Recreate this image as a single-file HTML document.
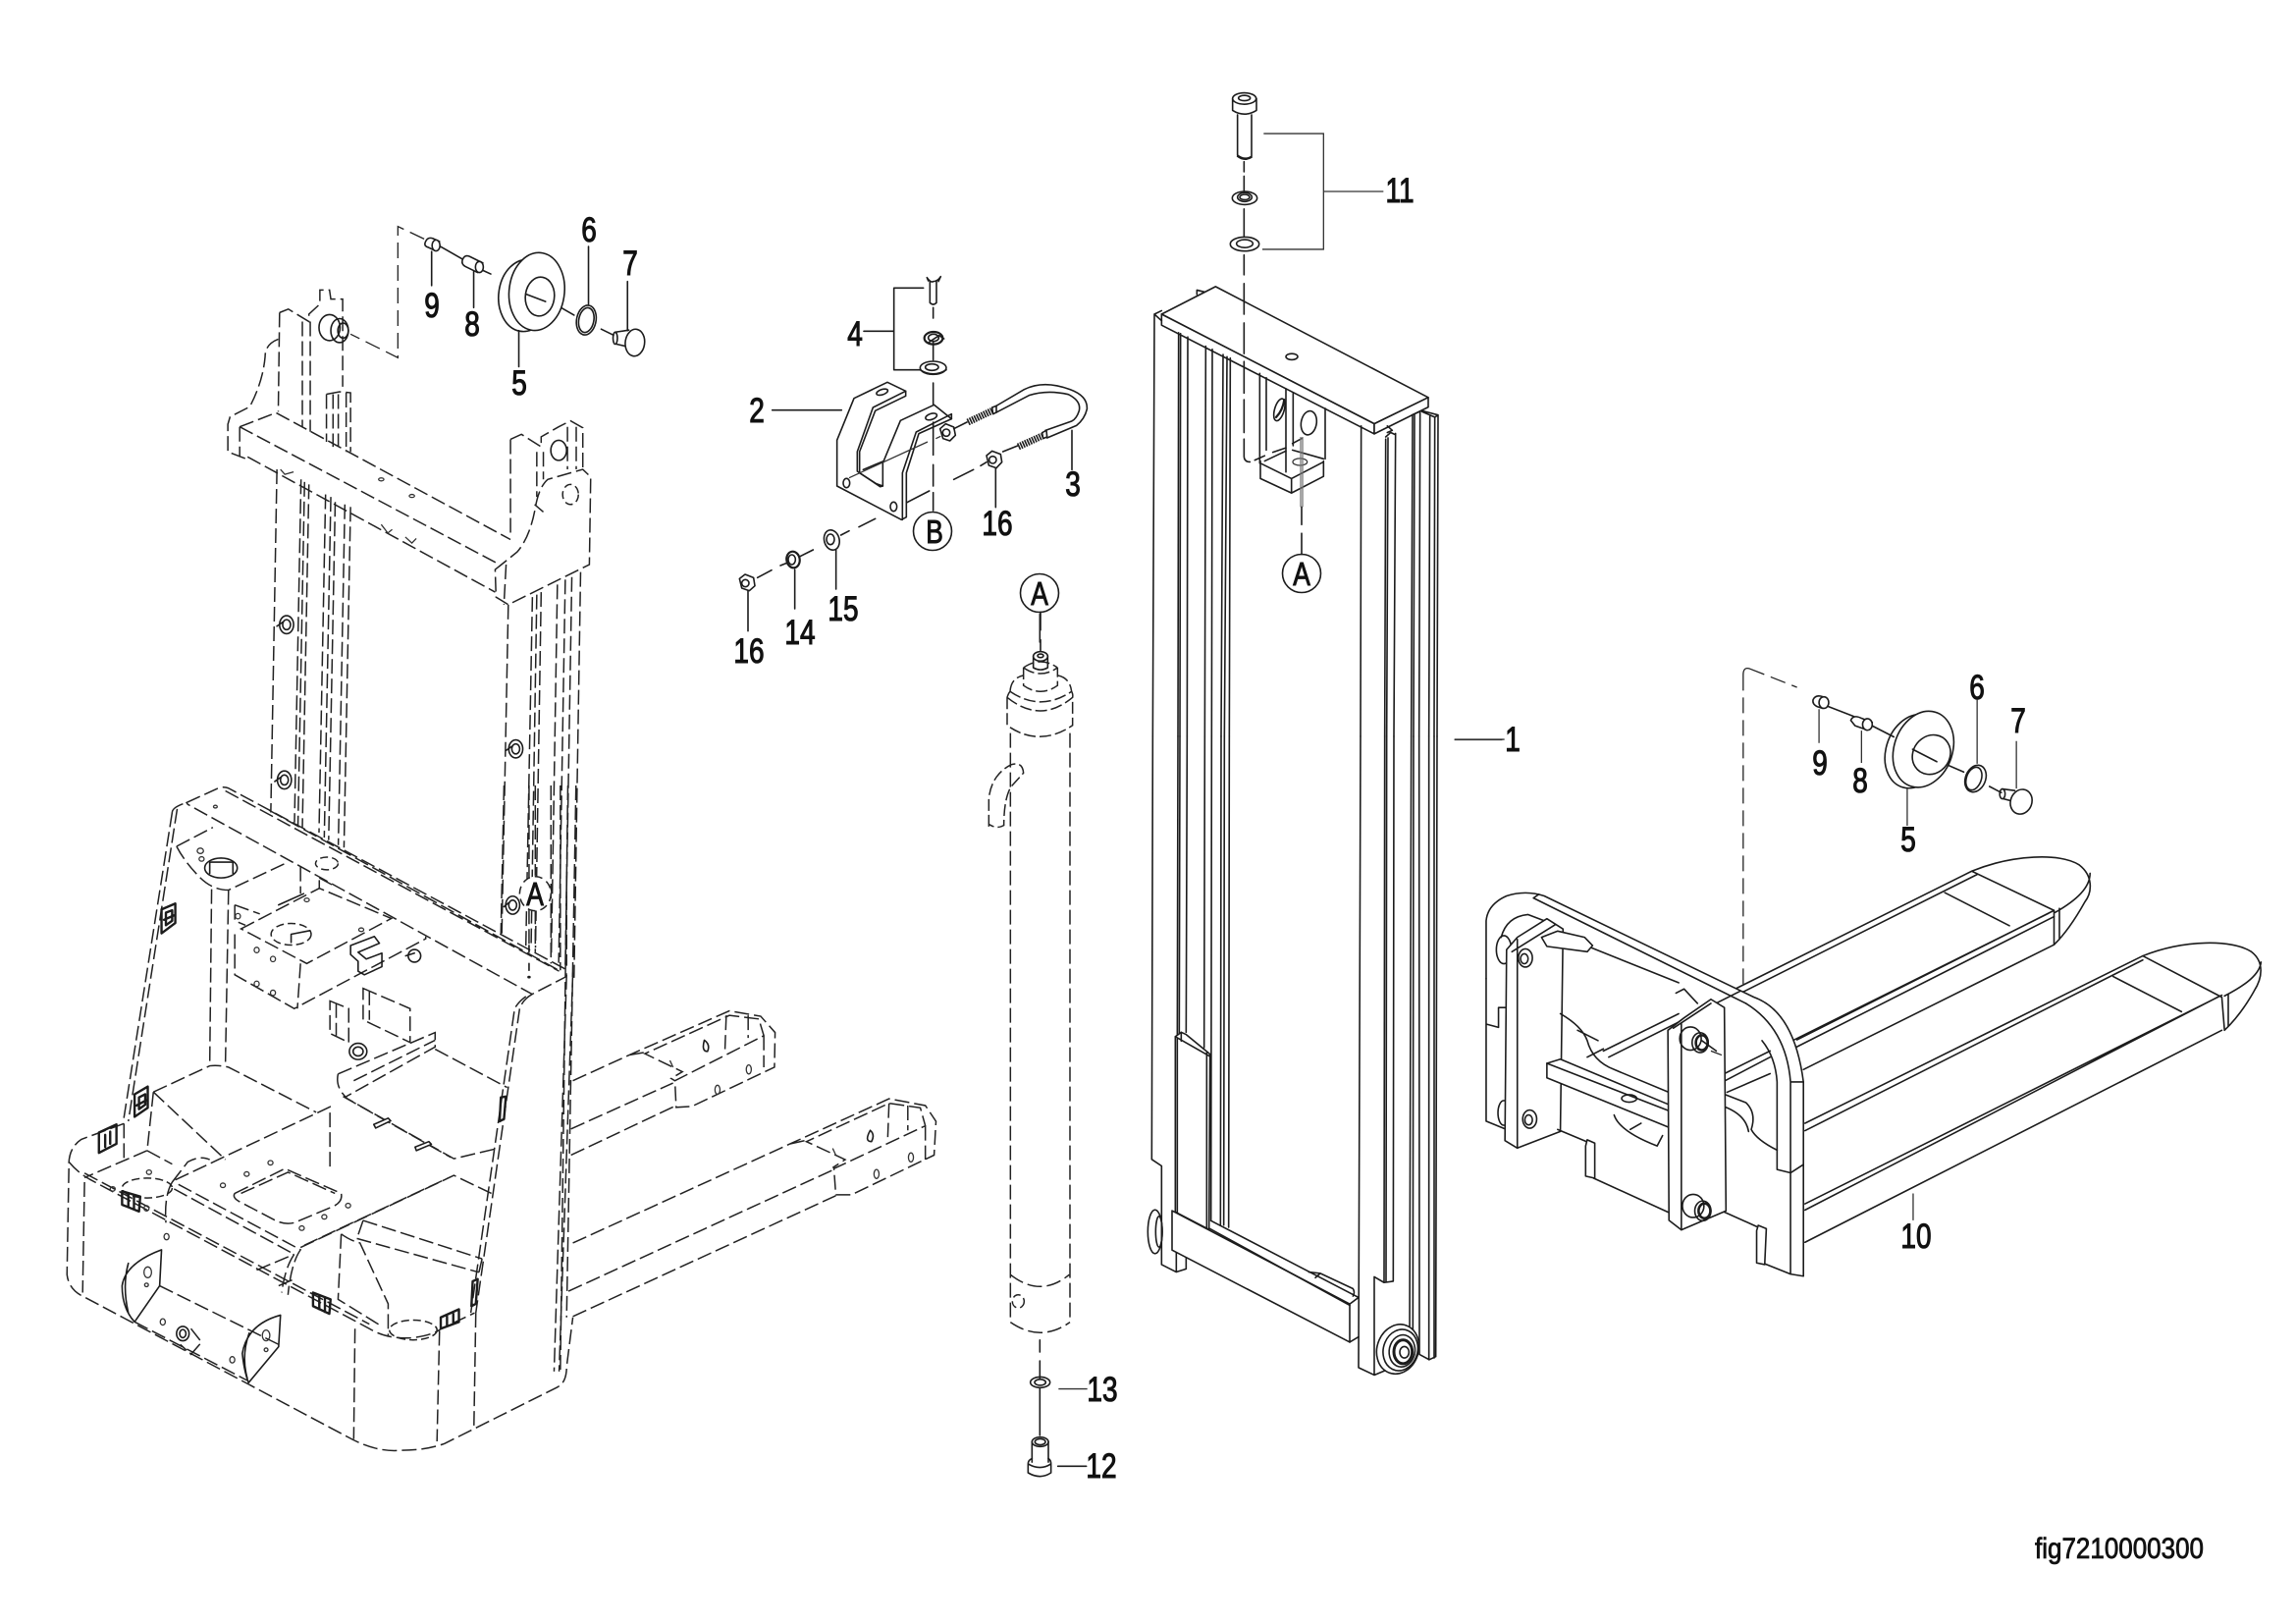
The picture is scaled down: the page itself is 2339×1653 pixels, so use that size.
<!DOCTYPE html>
<html><head><meta charset="utf-8"><title>fig7210000300</title>
<style>
html,body{margin:0;padding:0;background:#fff;width:2339px;height:1653px;overflow:hidden}
svg{display:block}
svg *{vector-effect:non-scaling-stroke}
.s{fill:none;stroke:#1c1c1c;stroke-width:1.6;stroke-linejoin:round;stroke-linecap:round}
.t{fill:none;stroke:#333;stroke-width:1.3}
.d{fill:none;stroke:#222;stroke-width:1.5;stroke-dasharray:15 5}
.dl{fill:none;stroke:#222;stroke-width:1.3;stroke-dasharray:16 7}
.w{fill:#fff;stroke:#1c1c1c;stroke-width:1.6;stroke-linejoin:round}
.k{fill:#1c1c1c;stroke:#1c1c1c;stroke-width:1}
.lb{font-family:"Liberation Sans",sans-serif;font-size:35px;fill:#111;stroke:#111;stroke-width:1;text-anchor:middle}
.ca{font-family:"Liberation Sans",sans-serif;font-size:33px;fill:#111;stroke:#111;stroke-width:.9;text-anchor:middle}
</style></head><body>
<svg xmlns="http://www.w3.org/2000/svg" width="2339" height="1653" viewBox="0 0 2339 1653">
<rect width="2339" height="1653" fill="#fff"/>

<!-- LEFT MAST (zoom1 coordinate space) -->
<g transform="translate(0 200) scale(.4464 .5102)">
<path class="dl" d="M968,85 L908,60 L908,322 L800,275"/>
<path class="s" d="M1005,100 L1055,125 M1100,147 L1120,155 M1245,205 L1262,215 M1270,217 L1310,237 M1372,265 L1400,277"/>
<path class="w" d="M970,93 Q975,80 988,84 L1003,90 L992,108 L978,102 Q968,100 970,93 Z"/>
<ellipse class="w" cx="995" cy="98" rx="9" ry="11"/>
<path class="w" d="M1055,128 Q1060,115 1072,120 L1102,133 L1090,152 L1062,140 Q1053,136 1055,128 Z"/>
<ellipse class="w" cx="1094" cy="141" rx="9" ry="11"/>
<ellipse class="s" cx="1198" cy="198" rx="60" ry="72" transform="rotate(10 1198 198)"/>
<ellipse class="w" cx="1225" cy="190" rx="63" ry="78" transform="rotate(10 1225 190)"/>
<ellipse class="s" cx="1232" cy="200" rx="33" ry="39" transform="rotate(10 1232 200)"/>
<path class="s" d="M1200,195 L1245,210"/>
<ellipse class="s" cx="1338" cy="247" rx="22" ry="30" transform="rotate(15 1338 247)"/>
<ellipse class="s" cx="1338" cy="247" rx="17" ry="25" transform="rotate(15 1338 247)"/>
<ellipse class="s" cx="1404" cy="283" rx="5" ry="12"/>
<path class="s" d="M1404,271 L1435,267 M1407,295 L1432,300"/>
<ellipse class="w" cx="1449" cy="292" rx="22" ry="27" transform="rotate(10 1449 292)"/>
<path class="s" d="M985,110 L985,178 M1081,150 L1081,222 M1184,268 L1184,340 M1343,100 L1343,215 M1432,170 L1432,268"/>

<path class="d" d="M638,232 L658,225 L705,250 L705,235 L730,215 L730,187 L752,187 L755,205 L782,205 L782,380"/>
<path class="d" d="M638,232 L635,430 M690,250 L690,460 M708,250 L708,470"/>
<path class="d" d="M745,395 L775,390 L800,392 L800,510 M745,395 L745,490 M760,395 L760,500 M772,395 L772,500 M790,392 L790,510"/>
<ellipse class="s" cx="752" cy="262" rx="24" ry="26"/>
<ellipse class="s" cx="775" cy="268" rx="20" ry="24"/>
<ellipse class="s" cx="783" cy="268" rx="12" ry="15"/>
<path class="d" d="M635,285 Q605,295 605,320 Q600,370 570,420 L525,440 L520,455 L520,510 L565,525"/>
<path class="d" d="M547,460 L630,432 L1165,685 M547,460 L1140,735 M565,520 L1130,790 M547,460 L547,520"/>
<ellipse class="t" cx="870" cy="565" rx="6" ry="3"/><ellipse class="t" cx="940" cy="598" rx="6" ry="3"/>
<path class="t" d="M870,655 L885,672 L895,665 M925,680 L940,692 L950,683 M640,545 L650,555 L670,550"/>
<path class="d" d="M1130,745 L1180,710 Q1210,680 1222,620 Q1230,580 1250,565 L1330,545 L1348,560 L1345,735 L1160,815 L1132,800 Z"/>
<path class="d" d="M1155,735 L1150,815 M1220,615 L1240,630"/>
<ellipse class="d" style="stroke-dasharray:8 4" cx="1302" cy="595" rx="18" ry="20"/>
<path class="d" d="M1165,485 L1190,475 L1235,500 L1235,480 L1275,460 L1302,448 L1330,462 L1330,545 M1165,485 L1165,680 M1225,510 L1225,600 M1240,510 L1240,565 M1295,460 L1295,545 M1315,460 L1315,545"/>
<ellipse class="s" cx="1275" cy="507" rx="18" ry="20"/>
<path class="d" d="M632,545 L618,1230 M687,565 L672,1250 M695,570 L680,1255 M705,575 L690,1260 M743,595 L728,1270 M755,600 L740,1280 M765,610 L750,1285 M787,615 L772,1295 M800,620 L785,1300"/>
<path class="d" d="M1160,815 L1145,1480 M1215,800 L1200,1500 M1225,795 L1212,1500 M1235,790 L1222,1500 M1272,775 L1258,1520 M1290,765 L1275,1530 M1305,760 L1290,1540 M1325,750 L1310,1560"/>
<g class="s">
<ellipse class="s" cx="654" cy="855" rx="16" ry="18"/><ellipse class="s" cx="654" cy="855" rx="9" ry="10"/><path class="s" d="M632,858 L645,850"/>
<ellipse class="s" cx="649" cy="1165" rx="16" ry="18"/><ellipse class="s" cx="649" cy="1165" rx="9" ry="10"/><path class="s" d="M627,1168 L640,1160"/>
<ellipse class="s" cx="1177" cy="1103" rx="16" ry="18"/><ellipse class="s" cx="1177" cy="1103" rx="9" ry="10"/><path class="s" d="M1155,1106 L1168,1098"/>
<ellipse class="s" cx="1170" cy="1415" rx="16" ry="18"/><ellipse class="s" cx="1170" cy="1415" rx="9" ry="10"/><path class="s" d="M1150,1418 L1161,1410"/>
</g>
</g>

<!-- LEFT BODY (zoom2 coordinate space) -->
<g transform="translate(0 800) scale(.6378 .4591)">
<path class="d" d="M905,200 L905,400 M895,0 L895,410 M880,0 L880,395 M845,0 L845,210 M855,0 L855,200 M805,0 L800,330 M920,0 L905,1180 M907,0 L895,1300"/>
<path class="d" d="M845,275 L845,365 M855,275 L855,370"/>
<path class="d" d="M298,38 L350,5 Q358,2 365,6 L900,405 Q908,412 903,425 L850,463 L300,42 Z"/>
<path class="d" d="M360,12 L893,412 M430,55 L895,412"/>
<path class="d" d="M275,60 Q275,48 298,38 M275,60 L197,745 M283,52 L205,745"/>
<path class="d" d="M198,750 L130,785 Q108,805 110,850 L107,1085 Q110,1120 135,1135 L555,1445 Q600,1480 640,1475 Q680,1475 710,1460 L890,1335 Q905,1325 905,1290 L915,1180"/>
<path class="d" d="M850,463 Q835,475 830,495 L760,1170 M840,468 Q828,480 822,495 L752,1170"/>
<path class="d" d="M905,420 L885,1300 M915,415 L893,1300"/>
<path class="d" d="M110,835 Q125,860 145,875 L590,1205 Q620,1230 660,1225 Q690,1220 705,1205 L758,1170 M135,860 L590,1195"/>
<path class="d" d="M135,880 L132,1125 M567,1205 L565,1450 M702,1210 L698,1455 M760,1170 L757,1420"/>
<path class="d" d="M338,230 L335,620 M365,232 L360,620"/>
<path class="d" d="M282,135 L340,93 M282,135 Q295,170 320,205 Q340,232 365,232 L460,170"/>
<ellipse class="s" cx="353" cy="183" rx="26" ry="22"/><path class="s" d="M335,170 L372,170 M335,195 L335,170 M372,170 L372,195"/>
<ellipse class="t" cx="320" cy="145" rx="5" ry="6"/><ellipse class="t" cx="322" cy="163" rx="4" ry="5"/><ellipse class="t" cx="344" cy="47" rx="3" ry="3"/>
<ellipse class="d" style="stroke-dasharray:8 4" cx="522" cy="173" rx="18" ry="14"/>
<path class="d" d="M480,180 L480,240 M510,210 L510,230 M510,205 L530,220 M375,265 L375,300 L392,310 M375,265 L415,285"/>
<path class="d" d="M385,318 L510,228 L625,295 L490,395 Z M375,330 L375,420 L470,495 L680,340 L680,335 M480,395 L475,495"/>
<ellipse class="d" style="stroke-dasharray:8 4" cx="465" cy="330" rx="32" ry="24"/>
<path class="s" d="M465,330 L495,322 M465,330 L465,348 M445,265 L485,240"/>
<ellipse class="t" cx="490" cy="254" rx="4" ry="4"/><ellipse class="t" cx="577" cy="320" rx="4" ry="4"/><ellipse class="t" cx="410" cy="365" rx="4" ry="6"/><ellipse class="t" cx="436" cy="385" rx="4" ry="6"/><ellipse class="t" cx="410" cy="440" rx="4" ry="6"/><ellipse class="t" cx="436" cy="460" rx="4" ry="6"/><ellipse class="t" cx="380" cy="290" rx="4" ry="6"/>
<path class="s" d="M560,355 L598,335 L606,350 L572,370 L585,385 L610,372 L610,402 L582,420 L572,412 L572,390 L560,375 Z"/>
<ellipse class="s" cx="662" cy="378" rx="10" ry="14"/><path class="s" d="M648,378 L662,372"/>
<path class="d" d="M580,450 L655,495 L655,570 L580,520 Z M590,455 L590,520"/>
<path class="d" d="M527,478 L557,495 L557,570 L527,550 Z M537,483 L537,555"/>
<ellipse class="s" cx="572" cy="590" rx="14" ry="18"/><ellipse class="s" cx="572" cy="590" rx="8" ry="10"/>
<path class="d" d="M540,640 L695,548 L695,580 L553,690 M540,640 Q535,670 555,695 L725,828 L795,805 M695,585 L810,670 M548,690 L720,825 M565,655 L695,565"/>
<path class="w" d="M597,752 L620,738 L624,744 L600,760 Z M663,802 L685,790 L689,796 L665,810 Z"/>
<path class="d" d="M245,680 L335,622 Q350,620 365,625 L505,725 M245,680 L235,810 M245,680 L360,830 M235,810 L135,870 M235,810 L275,840 M198,750 L198,835"/>
<path class="d" d="M280,875 L527,713 L527,850 M275,880 L300,835 Q320,820 335,830 M275,880 Q262,910 265,970 M285,885 L480,1030 Q465,1060 460,1130 M278,895 L470,1040 Q455,1070 450,1125"/>
<path class="d" d="M375,905 L455,850 L545,905 Q548,925 530,935 L470,970 Q455,975 440,965 L385,925 Q370,915 375,905 Z"/>
<path class="d" d="M385,905 L460,858 L535,905"/>
<g><ellipse class="t" cx="356" cy="887" rx="4" ry="5"/><ellipse class="t" cx="394" cy="862" rx="4" ry="5"/><ellipse class="t" cx="432" cy="837" rx="4" ry="5"/><ellipse class="t" cx="556" cy="932" rx="4" ry="5"/><ellipse class="t" cx="518" cy="957" rx="4" ry="5"/><ellipse class="t" cx="482" cy="982" rx="4" ry="5"/><ellipse class="t" cx="238" cy="858" rx="4" ry="5"/><ellipse class="t" cx="180" cy="895" rx="4" ry="5"/><ellipse class="t" cx="234" cy="938" rx="4" ry="6"/><ellipse class="t" cx="266" cy="1001" rx="4" ry="7"/></g>
<path class="d" d="M480,1025 L725,865 L785,905 M486,1020 L720,868 M545,995 Q560,1010 575,1015 L620,1150 L620,1220 M545,995 L540,1140 L610,1200 M580,965 L770,1050 M570,1005 L765,1080 M580,965 L570,1005 M410,1075 L470,1040 M445,1110 L470,1095 M765,1080 L770,1050"/>
<ellipse class="d" style="stroke-dasharray:8 4" cx="235" cy="893" rx="40" ry="22"/>
<ellipse class="d" style="stroke-dasharray:8 4" cx="660" cy="1208" rx="38" ry="22"/>
<path class="s" d="M258,1030 Q200,1060 195,1110 Q195,1160 215,1190 L255,1110 Z M205,1060 Q195,1110 205,1170"/>
<path class="s" d="M448,1175 Q395,1195 387,1260 Q390,1300 397,1325 L445,1245 Z M398,1215 Q385,1265 395,1315"/>
<path class="d" d="M255,1110 L445,1240 M215,1190 L395,1320"/>
<ellipse class="t" cx="236" cy="1080" rx="6" ry="12"/><ellipse class="t" cx="425" cy="1220" rx="6" ry="12"/><ellipse class="t" cx="234" cy="1108" rx="3" ry="4"/><ellipse class="t" cx="425" cy="1252" rx="3" ry="4"/><ellipse class="t" cx="260" cy="1190" rx="4" ry="7"/><ellipse class="t" cx="371" cy="1274" rx="4" ry="7"/>
<ellipse class="s" cx="292" cy="1216" rx="10" ry="16"/><ellipse class="s" cx="292" cy="1216" rx="5" ry="9"/><path class="d" d="M305,1205 L322,1235 L305,1262 L288,1240"/>
<!-- clips -->
<g class="s">
<path class="s" style="stroke-width:2.4" d="M258,275 L280,262 L280,305 L258,328 Z M265,282 L275,277 L275,300 L265,310 Z M262,298 L278,288"/>
<path class="s" style="stroke-width:2.4" d="M215,685 L236,668 L236,715 L215,735 Z M222,692 L232,685 L232,708 L222,718 Z M218,710 L234,698"/>
<path class="s" style="stroke-width:2.4" d="M158,770 L186,752 L186,795 L158,815 Z M168,775 L168,802 M176,768 L176,795"/>
<path class="s" style="stroke-width:2.4" d="M195,900 L224,912 L222,945 L195,930 Z M205,905 L205,935 M214,910 L214,940"/>
<path class="s" style="stroke-width:2.4" d="M500,1125 L528,1140 L526,1172 L500,1155 Z M510,1132 L510,1162 M519,1135 L519,1168"/>
<path class="s" style="stroke-width:2.4" d="M704,1180 L733,1162 L733,1190 L704,1205 Z M714,1178 L714,1198 M724,1172 L724,1192"/>
<path class="s" style="stroke-width:2.4" d="M755,1100 L763,1095 L760,1150 L753,1155 Z"/>
<path class="s" style="stroke-width:2.4" d="M800,692 L808,690 L805,740 L798,745 Z"/>
</g>
<!-- forks -->
<path class="d" d="M915,655 L1005,598 L1165,500 L1215,512 L1238,548 L1237,625 L1105,712 L1080,714 L1078,655 L1220,555 L1212,518 L1165,510 L1030,595 L1090,635 L1072,650 L1078,655 M1005,598 L1030,592 M912,762 L1075,660 M912,820 L1080,710 M1160,510 L1158,585 M1195,510 L1195,560 M1220,555 L1220,625"/>
<path class="d" d="M915,1015 L1262,795 L1420,695 L1478,710 L1495,745 L1492,820 L1360,908 L1335,908 L1332,850 L1478,755 L1470,715 L1420,705 L1288,790 L1350,830 L1330,848 M1262,795 L1288,787 M908,1122 L1335,850 M915,1178 L1335,910 M1420,705 L1418,780 M1450,710 L1450,765 M1478,755 L1478,830"/>
<path class="s" d="M1125,565 Q1135,575 1130,590 Q1120,590 1125,565 Z M1390,765 Q1398,775 1392,790 Q1380,790 1390,765 Z"/>
<ellipse class="t" cx="1146" cy="675" rx="4" ry="10"/><ellipse class="t" cx="1196" cy="630" rx="4" ry="10"/><ellipse class="t" cx="1400" cy="862" rx="4" ry="10"/><ellipse class="t" cx="1455" cy="825" rx="4" ry="10"/>
<path class="t" d="M1070,610 L1075,625 M1330,805 L1335,820"/>
<!-- A bubble -->
<ellipse cx="855" cy="240" rx="25" ry="38" fill="#fff" class="d" style="stroke-dasharray:8 5;fill:#fff"/>
<path class="s" d="M845,355 L845,370 M845,395 L845,410"/><circle class="k" cx="845" cy="425" r="2"/>
</g>

<!-- U-BOLT BRACKET (zoom3 space, uniform) -->
<g transform="translate(700 230) scale(.33333)">
<path class="s" d="M742,170 L742,235 Q752,245 762,235 L762,170 M733,158 Q745,175 752,170 Q765,170 775,155 M733,158 L737,168 M775,155 L768,170"/>
<path class="s" d="M752,250 L752,282 M752,355 L752,410 M752,480 L752,545 M752,600 L752,700 M752,730 L752,795 M752,815 L752,870"/>
<ellipse class="s" style="stroke-width:2.2" cx="753" cy="343" rx="28" ry="19"/><ellipse class="s" cx="753" cy="342" rx="16" ry="11"/><path class="s" d="M740,355 L770,335 L785,345"/>
<ellipse class="s" cx="752" cy="434" rx="40" ry="20"/><ellipse class="s" cx="748" cy="432" rx="20" ry="10"/><path class="s" d="M712,440 Q752,465 792,440"/>
<path class="s" d="M722,190 L632,190 L632,440 L710,440 M632,322 L540,322 M260,563 L472,563"/>
<path class="s" d="M668,505 L612,478 L510,527 L458,655 L458,795 L655,898 L670,890 L670,755 L708,635 L808,590 L755,547 L652,595 L598,725 L598,795 L578,788 L527,755 L527,690 L575,565 L668,520 Z"/>
<path class="s" d="M658,755 L658,898 M658,755 L700,630 L808,575 L808,590 M520,690 L568,555 L668,505 M520,690 L520,750 L590,797 L598,795 M538,745 L598,720"/>
<ellipse class="s" cx="596" cy="508" rx="18" ry="8" transform="rotate(-18 596 508)"/>
<ellipse class="s" cx="746" cy="583" rx="18" ry="9" transform="rotate(-18 746 583)"/>
<ellipse class="s" cx="487" cy="786" rx="10" ry="14"/><ellipse class="s" cx="631" cy="858" rx="10" ry="14"/>
<path class="t" d="M495,770 L735,660 M760,650 L775,643"/>
<path class="s" d="M672,845 L740,810 M815,775 L875,745 M897,733 L915,722 M525,920 L575,895 M470,945 L495,932 M345,1010 L385,990 M285,1038 L305,1030 M215,1075 L258,1052"/>
<path class="w" d="M773,620 L790,605 L815,615 L820,640 L803,657 L782,650 Z"/><circle class="s" cx="792" cy="632" r="11"/>
<path class="w" d="M915,702 L932,688 L958,698 L962,722 L945,740 L922,732 Z"/><circle class="s" cx="934" cy="715" r="11"/>
<path class="w" d="M160,1078 L177,1065 L203,1075 L207,1100 L190,1115 L167,1107 Z"/><circle class="s" cx="178" cy="1092" r="11"/>
<ellipse class="s" style="stroke-width:2.2" cx="324" cy="1020" rx="20" ry="25" transform="rotate(-10 324 1020)"/><ellipse class="s" cx="320" cy="1020" rx="11" ry="15"/>
<ellipse class="s" cx="442" cy="960" rx="23" ry="31" transform="rotate(-15 442 960)"/><ellipse class="s" cx="438" cy="958" rx="12" ry="16"/>
<path class="s" d="M945,550 L1030,500 Q1090,470 1170,500 Q1225,520 1222,560 Q1215,590 1190,610 L1100,648"/>
<path class="s" d="M945,570 L1045,518 Q1100,500 1165,515 Q1205,535 1198,565 Q1190,590 1175,597 L1095,625"/>
<path class="s" style="stroke-width:7;stroke-dasharray:1.6 1;stroke-linecap:butt" d="M858,600 L932,565 M1012,675 L1085,642"/>
<path class="s" d="M932,555 L945,550 L945,570 L935,575 Z M1085,632 L1098,625 L1100,645 L1088,650 Z M815,620 L855,600 M965,690 L1010,672"/>
<path class="s" d="M1176,625 L1176,745 M943,740 L943,860 M186,1115 L186,1238 M329,1050 L329,1170 M455,990 L455,1110 M1080,1180 L1080,1235 M1080,1265 L1080,1300"/>
</g>
<circle class="s" cx="950" cy="541" r="19.5"/>
<circle class="s" cx="1059" cy="604" r="19.5"/>
<circle class="s" cx="1326" cy="584" r="19.5"/>

<!-- CYLINDER (zoom4 space) -->
<g transform="translate(950 580) scale(.33333 .60606)">
<path class="s" d="M328,75 L328,122"/>
<ellipse class="s" cx="330" cy="146" rx="22" ry="8"/><ellipse class="s" cx="330" cy="145" rx="9" ry="3"/>
<path class="s" d="M308,146 L308,165 Q330,172 352,165 L352,146"/>
<path class="d" style="stroke-dasharray:12 4" d="M278,165 Q330,145 382,165 M278,165 Q330,185 382,165 M278,165 L278,195 Q330,215 382,195 L382,165"/>
<path class="d" style="stroke-dasharray:12 4" d="M237,205 Q240,182 278,178 M382,178 Q420,182 425,205 M237,205 Q330,240 425,205 M228,215 Q232,208 237,205 M425,205 Q430,210 428,215 M228,215 Q330,260 428,215 M228,215 L228,262 Q325,300 428,262 L428,215"/>
<path class="d" d="M238,275 L238,1265 M420,275 L420,1265 M238,1265 Q330,1300 420,1265 M238,1185 Q330,1225 418,1185"/>
<path class="d" style="stroke-dasharray:12 4" d="M172,432 L172,385 Q180,345 240,328 Q275,322 278,342 L240,365 Q218,385 218,430 Q195,437 172,428"/>
<ellipse class="d" style="stroke-dasharray:8 4" cx="262" cy="1230" rx="18" ry="11"/>
<path class="s" d="M328,1295 L328,1315 M328,1330 L328,1360 M328,1375 L328,1455"/>
<ellipse class="s" cx="329" cy="1366" rx="30" ry="9"/><ellipse class="s" cx="329" cy="1366" rx="17" ry="5"/>
<path class="t" d="M385,1377 L473,1377"/>
<path class="s" d="M383,1507 L470,1507"/>
<ellipse class="s" cx="329" cy="1466" rx="25" ry="8"/><ellipse class="s" cx="329" cy="1466" rx="16" ry="5"/>
<path class="s" d="M304,1466 L304,1500 M354,1466 L354,1500"/>
<path class="s" d="M304,1494 Q292,1497 292,1503 L292,1518 Q329,1530 362,1518 L362,1503 Q362,1497 354,1494 M292,1503 Q329,1515 362,1503"/>
</g>

<!-- CENTER MAST upper (zoom5 space) -->
<g transform="translate(1140 70) scale(.33333 .44643)">
<ellipse class="w" cx="383" cy="68" rx="36" ry="13"/><ellipse class="s" cx="383" cy="67" rx="18" ry="6"/>
<path class="s" d="M347,68 L347,95 Q383,112 420,95 L420,68 M362,105 L362,197 Q383,210 405,200 L405,105 M362,200 Q383,212 405,202"/>
<path class="s" d="M382,212 L382,235 M382,245 L382,282 M382,320 L382,382"/>
<ellipse class="s" cx="384" cy="295" rx="38" ry="15"/><ellipse class="s" cx="384" cy="293" rx="22" ry="10"/><ellipse class="s" cx="384" cy="293" rx="15" ry="6"/>
<ellipse class="s" cx="384" cy="400" rx="44" ry="16"/><ellipse class="s" cx="384" cy="399" rx="25" ry="9"/>
<path class="t" d="M442,148 L625,148 L625,412 L438,412 M625,280 L808,280"/>
<path class="s" d="M238,515 L238,505 L265,510"/>
<path class="w" d="M130,560 L295,497 L945,750 L780,810 Z"/>
<path class="w" d="M130,560 L130,585 L780,833 L780,810 Z"/>
<path class="w" d="M780,833 L945,772 L945,750 L780,810 Z"/>
<ellipse class="s" cx="528" cy="657" rx="18" ry="7"/>
<path class="s" d="M382,425 L382,470 M382,490 L382,560 M382,580 L382,650 M382,668 L382,740 M382,755 L382,830 M382,845 L382,885 Q383,897 400,897 M415,893 L445,883 M470,875 L510,865 M530,855 L560,843"/>
<path class="s" d="M108,560 L130,552 M108,560 L130,575 M108,560 L103,1523 M182,602 L180,1523 M188,604 L186,1523 M210,612 L208,1523 M265,633 L262,1523 M285,640 L283,1523 M318,652 L312,1523 M330,657 L322,1523 M340,660 L337,1523"/>
<path class="s" d="M740,815 L738,1523 M815,845 L812,1523 M822,842 L818,1523 M845,832 L840,1523 M815,840 L830,830 L845,835 M820,815 L835,825 L820,830"/>
<path class="s" d="M895,790 L925,780 L975,790 L965,795 L925,782 M897,790 L893,1523 M903,788 L900,1523 M920,785 L917,1523 M950,793 L947,1523 M965,795 L963,1523 M975,790 L972,1523"/>
<path class="s" d="M430,695 L430,900 M450,705 L450,870 M510,730 L510,920 M532,740 L532,860 M630,775 L630,890"/>
<ellipse class="s" cx="490" cy="778" rx="14" ry="27" transform="rotate(25 490 778)"/>
<ellipse class="s" cx="580" cy="808" rx="23" ry="28" transform="rotate(25 580 808)"/>
<path class="s" style="stroke-width:2.2" d="M480,795 Q500,780 505,755"/>
<path class="s" d="M432,895 L432,935 L527,968 L625,930 L625,895 M432,900 L527,935 L625,897 M527,935 L527,968 M445,895 L510,872 M530,870 L625,890"/>
<ellipse class="t" cx="553" cy="897" rx="22" ry="8"/>
<path class="t" style="stroke:#777" d="M555,840 L555,1000 M561,840 L561,1000"/>
<path class="s" d="M558,1000 L558,1040 M558,1060 L558,1108"/>
<path class="t" d="M1025,1530 L1178,1530"/>
</g>

<!-- CENTER MAST lower (zoom6 space) -->
<g transform="translate(1140 750) scale(.33333 .44643)">
<path class="s" d="M103,0 L100,965 L130,980 L130,1205 L175,1222 L205,1215 L205,1180 M175,1175 L175,1222"/>
<path class="s" d="M180,0 L178,680 M186,0 L184,678 M208,0 L205,675 M262,0 L260,710 M283,0 L281,1105 M312,0 L310,1115 M322,0 L320,1115 M337,0 L335,1120"/>
<path class="w" d="M172,685 L190,675 L205,680 L278,725 L275,1125 L172,1085 Z"/>
<path class="s" d="M178,690 L178,1090 M172,685 L278,730 M268,722 L268,1120 M190,675 L190,695"/>
<path class="w" d="M162,1082 L162,1172 L705,1382 L705,1295 Z"/>
<path class="s" d="M281,1105 L732,1280 L705,1295 M705,1382 L732,1370 M275,1122 L705,1298"/>
<path class="s" d="M580,1222 L615,1225 L715,1260 Q722,1268 715,1277 M615,1225 L600,1235"/>
<ellipse class="s" cx="110" cy="1130" rx="22" ry="50"/><ellipse class="s" cx="122" cy="1130" rx="10" ry="35"/>
<path class="s" d="M738,0 L732,1440 L780,1457 L835,1440 M780,1233 L780,1457 M780,1233 L810,1246 L838,1243 L840,0 M812,0 L810,1246 M818,0 L816,1245"/>
<path class="s" d="M893,0 L888,1380 M917,0 L918,1410 L948,1422 L968,1415 L972,0 M947,0 L947,1422 M900,0 L898,1370 M963,0 L963,1418"/>
<ellipse class="w" cx="852" cy="1398" rx="66" ry="55" transform="rotate(-20 852 1398)"/>
<ellipse class="s" cx="860" cy="1400" rx="54" ry="46" transform="rotate(-20 860 1400)"/>
<ellipse class="s" cx="865" cy="1402" rx="40" ry="36" transform="rotate(-20 865 1402)"/>
<ellipse class="s" style="stroke-width:3" cx="868" cy="1404" rx="28" ry="27"/>
<ellipse cx="872" cy="1405" rx="14" ry="13" fill="#fff" class="s" style="fill:#fff"/>
</g>

<!-- FORK (zoom7 space) -->
<g transform="translate(1480 660) scale(.54785 .42088)">
<path class="dl" d="M552,50 L640,95 M540,65 Q540,45 552,50 M540,65 L540,990 Q540,1005 525,1000 L480,975"/>
<path class="s" d="M695,140 L745,165 M775,185 L820,215 M870,255 L950,300 M998,335 L1020,350"/>
<path class="w" d="M670,125 Q675,112 688,118 L697,125 L688,146 L678,142 Q668,136 670,125 Z"/>
<ellipse class="w" cx="690" cy="132" rx="9" ry="14"/>
<path class="w" d="M740,175 Q745,160 760,170 L780,180 L770,198 L748,188 Z"/>
<ellipse class="w" cx="771" cy="185" rx="9" ry="14"/>
<ellipse class="s" cx="858" cy="250" rx="53" ry="90" transform="rotate(10 858 250)"/>
<ellipse class="w" cx="875" cy="245" rx="55" ry="93" transform="rotate(10 875 245)"/>
<ellipse class="s" cx="890" cy="258" rx="35" ry="48" transform="rotate(10 890 258)"/>
<path class="s" d="M855,245 L900,275"/>
<ellipse class="s" cx="972" cy="316" rx="19" ry="33" transform="rotate(12 972 316)"/>
<ellipse class="s" cx="969" cy="316" rx="14" ry="28" transform="rotate(12 969 316)"/>
<ellipse class="s" cx="1022" cy="353" rx="5" ry="12"/>
<path class="s" d="M1022,341 L1045,345 M1024,365 L1045,372"/>
<ellipse class="w" cx="1057" cy="372" rx="20" ry="30" transform="rotate(8 1057 372)"/>
<path class="t" d="M681,148 L681,230 M760,200 L760,278 M845,340 L845,430 M975,125 L975,280 M1048,225 L1048,340 M856,1320 L856,1385 M3,222 L92,222"/>

<!-- rear tine -->
<path class="s" d="M965,540 C1040,500 1130,495 1165,525 C1190,550 1190,590 1175,615 C1160,650 1140,690 1118,718 L1118,635 Z M1120,640 C1160,610 1185,580 1185,545 M1128,630 L1128,705"/>
<path class="s" d="M965,540 L525,825 M975,548 L540,832 M915,592 L1035,672 M1118,635 L640,948 M1108,642 L632,950 M1118,650 L640,965 M1118,718 L652,1020"/>
<!-- front tine -->
<path class="s" d="M1283,745 C1360,705 1450,705 1485,735 C1510,760 1505,800 1490,830 C1475,865 1455,900 1435,925 L1430,845 Z M1435,842 C1475,815 1500,790 1503,760 M1442,838 L1442,915"/>
<path class="s" d="M1283,745 L655,1150 M1283,755 L655,1168 M1228,795 L1355,880 M1430,840 L655,1345 M1422,845 L655,1360 M1430,925 L655,1438"/>

<!-- carriage -->
<path fill="#fff" stroke="none" d="M62,800 L62,660 Q65,620 100,600 Q135,585 170,600 L560,845 Q635,880 652,1050 L652,1520 L628,1515 L585,1490 L505,1360 L400,1360 L200,1165 L62,1145 Z"/>
<path class="s" d="M62,800 L62,660 Q65,620 100,600 Q135,585 170,600 L560,845 Q635,880 652,1050 L652,1520 L628,1515 L580,1490"/>
<path class="s" d="M150,605 L545,860 M160,596 L150,605 M190,690 L420,810 M90,700 Q100,650 140,645 L170,660"/>
<path class="s" d="M545,860 Q620,920 628,1050 L628,1270 L603,1262 L603,1050 Q600,990 575,950 M628,1050 L652,1050 M628,1270 L652,1250 M628,1270 L628,1515"/>
<path class="s" d="M62,800 L62,910 L85,918 L85,870 L100,870 M62,910 L62,1145 L100,1165"/>
<ellipse class="s" cx="95" cy="730" rx="14" ry="34"/><ellipse class="s" cx="95" cy="1125" rx="11" ry="30"/>
<path class="w" d="M100,730 L120,700 L175,655 L205,680 L200,1170 L120,1210 L97,1192 Z"/>
<path class="s" d="M110,735 L190,670 M120,705 L120,1210"/>
<ellipse class="s" cx="135" cy="750" rx="13" ry="22"/><ellipse class="s" cx="133" cy="752" rx="7" ry="12"/>
<ellipse class="s" cx="143" cy="1140" rx="13" ry="22"/><ellipse class="s" cx="141" cy="1142" rx="7" ry="12"/>
<path class="w" d="M165,700 L195,685 L245,700 L260,720 L250,735 L175,722 Z"/>
<path class="s" d="M415,835 L430,825 L455,860 M200,885 Q240,915 250,950 Q260,1000 300,1020 L420,1085 M232,925 L270,950 M250,990 L280,970"/>
<path class="s" d="M290,990 L535,830 M280,975 L420,885 M505,1030 L590,975 M505,1048 L590,990 M505,1080 L545,1100 Q565,1125 555,1165 Q565,1190 603,1215 M505,1110 Q545,1130 550,1170 M510,1075 L590,1030"/>
<path class="w" d="M175,1005 L200,995 L402,1105 L402,1160 L175,1040 Z"/>
<path class="s" d="M175,1005 L402,1120"/>
<ellipse class="s" cx="328" cy="1090" rx="14" ry="9"/>
<path class="s" d="M300,1130 Q310,1170 380,1205 L390,1180 M330,1165 L350,1150"/>
<path class="s" d="M195,1165 L250,1195 M262,1283 L400,1365 M500,1362 L565,1400"/>
<path class="w" d="M247,1205 L250,1190 L264,1198 L264,1283 L247,1278 Z M565,1410 L568,1397 L583,1405 L580,1492 L565,1488 Z"/>
<path class="w" d="M400,925 L430,895 L480,850 L505,870 L508,1362 L425,1408 L402,1385 Z"/>
<path class="s" d="M425,908 L425,1408 M410,920 L480,860"/>
<ellipse class="s" cx="442" cy="945" rx="20" ry="28"/><ellipse class="s" cx="460" cy="955" rx="15" ry="24"/><ellipse class="s" style="stroke-width:2.6" cx="463" cy="955" rx="11" ry="18"/><path class="s" d="M463,950 L490,975"/>
<ellipse class="s" cx="447" cy="1350" rx="20" ry="28"/><ellipse class="s" cx="465" cy="1362" rx="15" ry="24"/><ellipse class="s" style="stroke-width:2.6" cx="468" cy="1362" rx="11" ry="18"/>
<path class="dl" d="M480,975 L500,985"/>
</g>

<!-- LABELS -->
<g>
<text class="ca" transform="translate(545 922) scale(.8 1)">A</text>
<text class="lb" transform="translate(600 246) scale(.8 1)">6</text>
<text class="lb" transform="translate(642 280) scale(.8 1)">7</text>
<text class="lb" transform="translate(440 323) scale(.8 1)">9</text>
<text class="lb" transform="translate(481 342) scale(.8 1)">8</text>
<text class="lb" transform="translate(529 402) scale(.8 1)">5</text>
<text class="lb" transform="translate(871 352) scale(.8 1)">4</text>
<text class="lb" transform="translate(771 430) scale(.8 1)">2</text>
<text class="lb" transform="translate(1093 505) scale(.8 1)">3</text>
<text class="lb" transform="translate(1016 545) scale(.8 1)">16</text>
<text class="lb" transform="translate(763 675) scale(.8 1)">16</text>
<text class="lb" transform="translate(815 656) scale(.8 1)">14</text>
<text class="lb" transform="translate(859 632) scale(.8 1)">15</text>
<text class="lb" transform="translate(1123 1427) scale(.8 1)">13</text>
<text class="lb" transform="translate(1122 1505) scale(.8 1)">12</text>
<text class="lb" transform="translate(1426 206) scale(.8 1)">11</text>
<text class="lb" transform="translate(1541 765) scale(.8 1)">1</text>
<text class="lb" transform="translate(2014 712) scale(.8 1)">6</text>
<text class="lb" transform="translate(2056 746) scale(.8 1)">7</text>
<text class="lb" transform="translate(1854 789) scale(.8 1)">9</text>
<text class="lb" transform="translate(1895 807) scale(.8 1)">8</text>
<text class="lb" transform="translate(1944 867) scale(.8 1)">5</text>
<text class="lb" transform="translate(1952 1271) scale(.8 1)">10</text>
<text class="ca" transform="translate(952 553) scale(.8 1)">B</text>
<text class="ca" transform="translate(1059 616) scale(.8 1)">A</text>
<text class="ca" transform="translate(1326 596) scale(.8 1)">A</text>
<text x="2159" y="1587" text-anchor="middle" font-family="Liberation Sans, sans-serif" font-size="30" fill="#111" stroke="#111" stroke-width=".8" textLength="172" lengthAdjust="spacingAndGlyphs">fig7210000300</text>
</g>
</svg>
</body></html>
